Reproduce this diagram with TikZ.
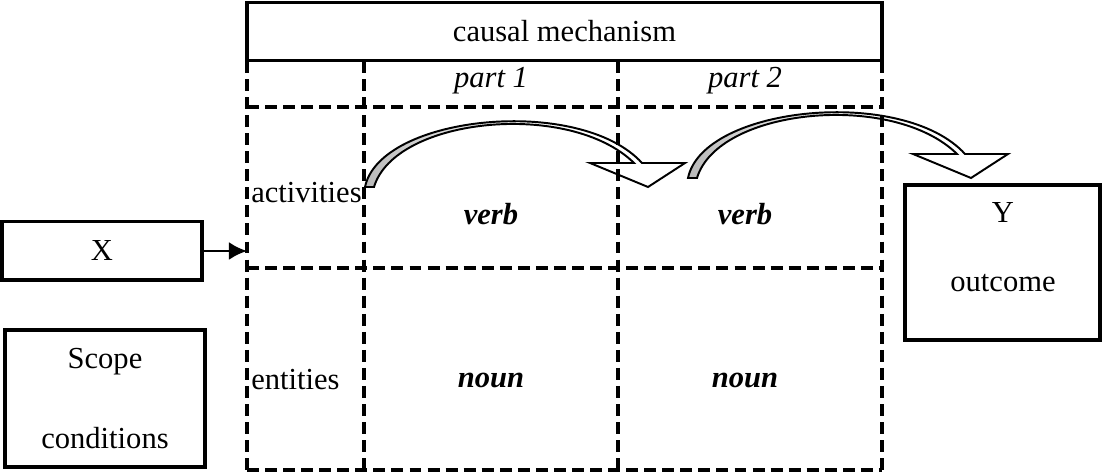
\documentclass[tikz,border=0pt]{standalone}
\usepackage{fontspec}
\setmainfont{Liberation Serif}
\usetikzlibrary{arrows.meta, positioning, calc}

\begin{document}
\begin{tikzpicture}[x=3.6pt, y=-3.6pt, font=\fontsize{11}{13}\selectfont,
        box/.style={rectangle, draw=black, line width=1.1pt, inner sep=0pt},
        grid/.style={draw=black, line width=1.1pt, dash pattern=on 4.3pt off 2.2pt},
        line/.style={draw=black, -{Latex[length=6.5pt, width=6.5pt]}, line width=1pt},
        bendarrow/.style={draw=black, line width=0.7pt, left color=gray!55, right color=white, middle color=white}]

    \useasboundingbox (0,0) rectangle (110.5,47.3);

    % curved arrows (drawn first, the grid lies over them)
    \foreach \dx/\dy in {0/0, 32.3/-0.9} {
        \path [bendarrow, shift={(\dx,\dy)}] (36.5,18.7) .. controls (38,11.5) and (58,9.5) .. (64.2,16.3)
            -- (68.5,16.3) -- (64.8,18.7) -- (59,16.3) -- (63.4,16.3)
            .. controls (57,10.0) and (39.5,11.7) .. (37.4,18.7) -- cycle;
    }

    \node [box, minimum width=228.6pt, minimum height=21.2pt] (mech) at (56.45,3.15) {causal mechanism};

    % the grid
    \foreach \gx in {24.7, 36.4, 61.8, 88.2}
        \draw [grid] (\gx,6.1) -- (\gx,47.0);
    \foreach \gy in {10.7, 26.8, 47.0}
        \draw [grid] (24.7,\gy) -- (88.2,\gy);

    \node (part1) at (49.1,8.1) {\textit{part 1}};
    \node (part2) at (74.5,8.1) {\textit{part 2}};
    \node [anchor=west, inner sep=1pt] (act) at (24.8,19.3) {activities};
    \node [anchor=west, inner sep=1pt] (ent) at (24.8,38.0) {entities};
    \node (verb1) at (49.1,21.4) {\textbf{\textit{verb}}};
    \node (verb2) at (74.5,21.4) {\textbf{\textit{verb}}};
    \node (noun1) at (49.1,38.0) {\textbf{\textit{noun}}};
    \node (noun2) at (74.5,38.0) {\textbf{\textit{noun}}};

    % boxes outside the mechanism
    \node [box, minimum width=72pt, minimum height=20.9pt] (xin) at (10.2,25.1) {X};
    \node [box, minimum width=72pt, minimum height=49.3pt, align=center] (scope) at (10.5,39.85) {Scope\\[16pt]conditions};
    \node [box, minimum width=70.2pt, minimum height=55.8pt] (yout) at (100.25,26.25) {};
    \node (ylab) at (100.3,21.3) {Y};
    \node (olab) at (100.3,28.3) {outcome};

    \coordinate (entry) at (24.7,25.1);
    \path [line] (xin.east) -- (entry);
\end{tikzpicture}
\end{document}
